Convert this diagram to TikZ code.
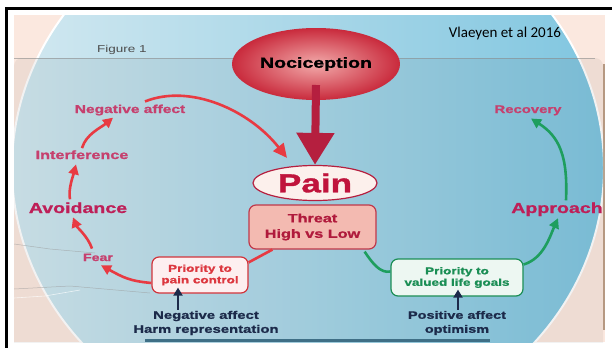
\documentclass[tikz,border=0pt]{standalone}
\usepackage{fontspec}
\newfontfamily\ff[FakeStretch=1.35, BoldFeatures={FakeBold=1.2}]{Liberation Sans}
\newfontfamily\vlfont{Carlito}
\usetikzlibrary{arrows.meta,shapes.geometric,calc}
\definecolor{bgpeach}{HTML}{FBE8DF}
\definecolor{ellL}{HTML}{D2E8F0}
\definecolor{ellM}{HTML}{B6DDEB}
\definecolor{ellR}{HTML}{80C6E0}
\definecolor{lred}{HTML}{C6406E}
\definecolor{dred}{HTML}{BE1F58}
\definecolor{ared}{HTML}{E83A42}
\definecolor{agreen}{HTML}{1E9E5E}
\definecolor{bigred}{HTML}{B51F3F}
\definecolor{painred}{HTML}{C0143C}
\definecolor{navy}{HTML}{1C2A4A}
\definecolor{stripblue}{HTML}{3F6F86}
\definecolor{nociin}{HTML}{F2AAAA}
\definecolor{nociout}{HTML}{C92A3C}
\definecolor{painfill}{HTML}{FCF0EC}
\definecolor{thrdraw}{HTML}{C0384A}
\definecolor{thrfill}{HTML}{F3BAB1}
\definecolor{thrtext}{HTML}{B01A3C}
\tikzset{
  lbl/.style={font=\ff\bfseries\fontsize{#1}{#1}\selectfont, inner sep=1pt, anchor=base},
  two/.style 2 args={font=\ff\bfseries\fontsize{#1}{#2}\selectfont, align=center, inner sep=1pt},
  redarr/.style={draw=ared, line width=2.6pt, -{Triangle[length=10pt,width=10pt]}},
  greenarr/.style={draw=agreen, line width=2.6pt, -{Triangle[length=10pt,width=10pt]}},
  blkarr/.style={draw=navy, line width=2.6pt, -{Triangle[length=8pt,width=9pt]}},
  boxr/.style={draw=ared!90!black, line width=1.2pt, fill=white!92!ared, rounded corners=7pt,
     minimum width=96pt, minimum height=36pt, text=ared!95!black},
  boxg/.style={draw=agreen!90!black, line width=1.2pt, fill=agreen!8!white, rounded corners=7pt,
     minimum width=132pt, minimum height=37pt, text=agreen!90!black},
}
\begin{document}
\begin{tikzpicture}[x=1pt,y=-1pt]
\useasboundingbox (0,0) rectangle (612,348);
\fill[white] (0,0) rectangle (612,348);
\fill[black] (5,7) rectangle (8,348);
\fill[black] (5,7) rectangle (612,10);
% background picture
\begin{scope}
\clip (14,15) rectangle (605,342);
\fill[bgpeach] (14,15) rectangle (605,342);
\shade[left color=ellL, middle color=ellM, right color=ellR] (308,168) ellipse [x radius=296, y radius=271];
\draw[white, line width=2pt] (308,168) ellipse [x radius=296, y radius=271];
\fill[black, opacity=.05, rounded corners=8pt] (14,58) rectangle (603,360);
\draw[black!45, line width=.8pt, opacity=.6] (14,58) -- (595,58);
\fill[brown!60!black, opacity=.5] (603,64) rectangle (605,330);
\draw[black!40, line width=.5pt, opacity=.6] (14,244) -- (50,249) -- (95,253);
\draw[black!40, line width=.5pt, opacity=.6] (14,289) -- (70,286) -- (150,293);
\draw[white, line width=.6pt, opacity=.7] (14,298) -- (45,296) -- (80,290);
\fill[stripblue] (145,339) rectangle (490,342);
\end{scope}
% texts
\node[font=\ff\fontsize{10}{10}\selectfont, text=black!70, inner sep=1pt, anchor=base] (fig) at (122,52) {Figure 1};
\node[font=\vlfont\fontsize{15}{15}\selectfont, inner sep=1pt, anchor=base] (cite) at (505,37) {Vlaeyen et al 2016};
% main nodes
\node[ellipse, minimum width=168pt, minimum height=72pt, inner sep=0pt,
      inner color=nociin, outer color=nociout,
      font=\ff\bfseries\fontsize{14.5}{14.5}\selectfont] (noci) at (316,64) {Nociception};
\node[ellipse, minimum width=124pt, minimum height=35pt, inner sep=0pt, fill=painfill,
      draw=bigred, line width=1.2pt, text=painred,
      font=\ff\bfseries\fontsize{26}{26}\selectfont] (pain) at (315,183) {Pain};
\node[draw=thrdraw, line width=1.2pt, fill=thrfill, rounded corners=7pt,
      minimum width=127pt, minimum height=44pt, text=thrtext,
      two={12}{15.5}] (threat) at (312.5,227) {Threat\\High vs Low};
\node[boxr, two={10}{11.5}] (pcontrol) at (200,275) {Priority to\\pain control};
\node[boxg, two={10}{11.5}] (valued) at (457,277.5) {Priority to\\valued life goals};
\node[two={11}{14}, text=navy] (neglab) at (206,323) {Negative affect\\Harm representation};
\node[two={10.7}{14}, text=navy] (poslab) at (457,323) {Positive affect\\optimism};
% cycle labels
\node[lbl=11.5, text=lred] (negaff) at (130,113) {Negative affect};
\node[lbl=12, text=lred] (interf) at (82,159) {Interference};
\node[lbl=14.5, text=dred] (avoid) at (78,213) {Avoidance};
\node[lbl=10.5, text=lred] (fear) at (98,261) {Fear};
\node[lbl=11, text=lred] (recov) at (528,113) {Recovery};
\node[lbl=14.5, text=dred] (approach) at (557,213) {Approach};
% connectors
\draw[draw=bigred, line width=8pt, -{Triangle[length=32pt,width=36pt]}] ($(noci.center)+(0,21)$) -- (pain.north);
\draw[redarr, -{Triangle[length=14pt,width=13pt]}] ($(negaff.north)+(15,-2)$) .. controls +(45,-18) and +(-38,-48) .. ($(pain.north)+(-28,-7)$);
\draw[redarr] ($(interf.north)+(0,-1)$) .. controls +(4,-14) and +(-12,10) .. ($(negaff.south)+(-17,1)$);
\draw[redarr] ($(avoid.north)+(-8,-2)$) .. controls +(-2,-10) and +(-3,12) .. ($(interf.south)+(-6,4)$);
\draw[redarr] ($(fear.north)+(-6,-4)$) .. controls +(-4,-12) and +(4,10) .. ($(avoid.south)+(-5,3)$);
\draw[redarr] ($(pcontrol.west)+(0,8)$) .. controls +(-22,-2) and +(22,12) .. ($(fear.south)+(3,3)$);
\draw[ared, line width=2.6pt] ($(threat.south west)+(24,0)$) -- ($(pcontrol.north east)+(0,6)$);
\draw[agreen, line width=2.6pt] ($(threat.south east)+(-12,2)$) .. controls +(8,12) and +(-10,2) .. ($(valued.west)+(0,-6)$);
\draw[greenarr] ($(valued.east)+(0,-13)$) .. controls +(20,-6) and +(-8,18) .. ($(approach.south)+(1,1)$);
\draw[greenarr] ($(approach.north)+(9,-1)$) .. controls +(2,-45) and +(28,18) .. ($(recov.south)+(3,2)$);
\draw[blkarr] ($(neglab.north)+(-28,0)$) -- ($(pcontrol.south)+(-22,-6)$);
\draw[blkarr] ($(poslab.north)+(1,0)$) -- ($(valued.south)+(1,-7)$);
\end{tikzpicture}
\end{document}
